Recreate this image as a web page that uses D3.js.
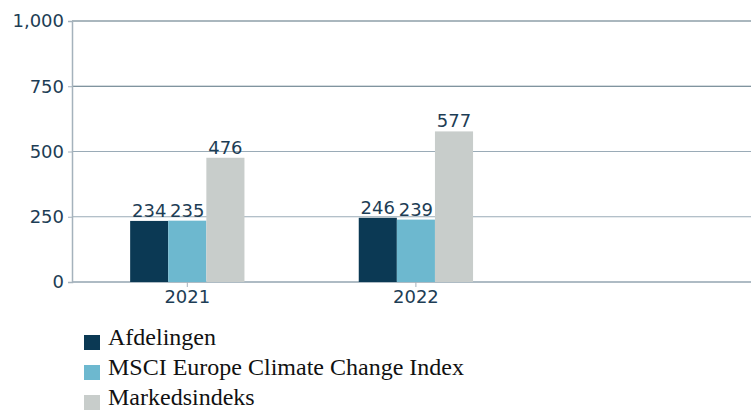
<!DOCTYPE html>
<html>
<head>
<meta charset="utf-8">
<script src="https://cdn.jsdelivr.net/npm/d3@7"></script>
<style>
  body { margin: 0; background: #fff; }
  svg text { font-family: "DejaVu Sans", Verdana, sans-serif; }
</style>
</head>
<body>
<div id="chart"></div>
<script>
// data ------------------------------------------------------------------
var years = ["2021", "2022"];
var seriesNames = ["Afdelingen", "MSCI Europe Climate Change Index", "Markedsindeks"];
var afdelingen = [234, 246];
var msci = [235, 239];
var markedsindeks = [476, 577];
var yTicks = [0, 250, 500, 750, 1000];

var colors = ["#0b3954", "#6db8cf", "#c8cdcb"];
var textColor = "#1d3d55";

// chart -----------------------------------------------------------------
var width = 751, height = 412;
var mLeft = 72, mRight = 751, mTop = 21, mBottom = 282;

var svg = d3.select("#chart").append("svg")
  .attr("width", width)
  .attr("height", height);

var y = d3.scaleLinear().domain([0, 1000]).range([mBottom, mTop]);
var x0 = d3.scaleBand().domain(years).range([mLeft + 1, mLeft + 1 + 2 * 228.6]);
var x1 = d3.scaleBand().domain(seriesNames)
  .range([x0.bandwidth() * 0.25, x0.bandwidth() * 0.75]);

// grid lines
var gridColor = function(d) { return d >= 750 ? "#56707f" : "#9aabb7"; };
svg.append("g").selectAll("line")
  .data(yTicks)
  .enter().append("line")
    .attr("x1", mLeft)
    .attr("x2", mRight)
    .attr("y1", function(d) { return y(d); })
    .attr("y2", function(d) { return y(d); })
    .style("stroke", gridColor)
    .style("stroke-width", 1.2);

// y axis
var yAxis = svg.append("g")
  .attr("transform", "translate(" + mLeft + ",0)")
  .call(d3.axisLeft(y).tickValues(yTicks).tickSize(4).tickPadding(4)
    .tickFormat(d3.format(",")));
yAxis.select(".domain").style("stroke", "#a5b2bc").style("stroke-width", 1.5);
yAxis.selectAll(".tick line").style("stroke", "#a5b2bc");
yAxis.selectAll("text")
  .style("font-size", "18px")
  .style("fill", textColor);

// x axis
var xAxis = svg.append("g")
  .attr("transform", "translate(0," + mBottom + ")")
  .call(d3.axisBottom(x0).tickSize(5).tickPadding(3).tickSizeOuter(0));
xAxis.select(".domain").attr("d", "M" + mLeft + ",0H" + mRight)
  .style("stroke", "#a5b2bc").style("stroke-width", 1.5);
xAxis.selectAll(".tick line").style("stroke", "#a5b2bc");
xAxis.selectAll("text")
  .style("font-size", "18px")
  .style("fill", textColor);

// bars
var values = [afdelingen, msci, markedsindeks];
var rows = [];
years.forEach(function(yr, i) {
  seriesNames.forEach(function(s, j) {
    rows.push({ year: yr, series: s, idx: j, value: values[j][i] });
  });
});

var bars = svg.append("g").selectAll("g")
  .data(rows)
  .enter().append("g")
  .attr("transform", function(d) { return "translate(" + x0(d.year) + ",0)"; });

bars.append("rect")
  .attr("x", function(d) { return x1(d.series); })
  .attr("y", function(d) { return y(d.value); })
  .attr("width", x1.bandwidth())
  .attr("height", function(d) { return mBottom - y(d.value); })
  .attr("fill", function(d) { return colors[d.idx]; });

bars.append("text")
  .attr("x", function(d) { return x1(d.series) + x1.bandwidth() / 2; })
  .attr("y", function(d) { return y(d.value) - 4; })
  .attr("text-anchor", "middle")
  .style("font-size", "18px")
  .style("fill", textColor)
  .text(function(d) { return d.value; });

// legend
var legend = svg.append("g").selectAll("g")
  .data(seriesNames)
  .enter().append("g")
  .attr("transform", function(d, i) { return "translate(84," + (335 + i * 30) + ")"; });

legend.append("rect")
  .attr("width", 16)
  .attr("height", 15)
  .attr("fill", function(d, i) { return colors[i]; });

legend.append("text")
  .attr("x", 24)
  .attr("y", 10)
  .style("font-family", "'Liberation Serif', 'Times New Roman', serif")
  .style("font-size", "24px")
  .style("fill", "#111")
  .text(function(d) { return d; });
</script>
</body>
</html>
